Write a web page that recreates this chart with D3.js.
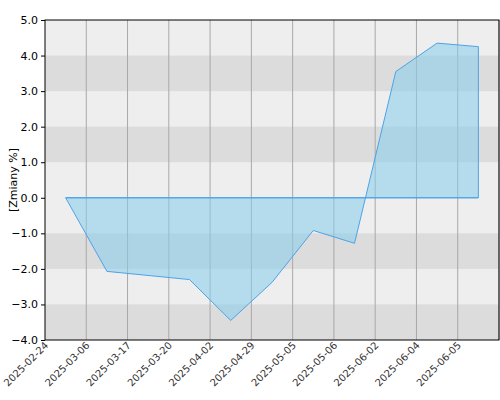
<!DOCTYPE html>
<html><head><meta charset="utf-8">
<script src="https://cdn.jsdelivr.net/npm/d3@7"></script>
<style>body{margin:0;background:#fff}text{font-family:"DejaVu Sans",sans-serif}</style>
</head><body><svg id="c" width="500" height="400"></svg>
<script>
var labels = ['2025-02-24','2025-03-06','2025-03-17','2025-03-20','2025-04-02','2025-04-29','2025-05-05','2025-05-06','2025-06-02','2025-06-04','2025-06-05'];
var values = [0.0, -2.07, null, -2.3, -3.45, -2.38, -0.92, -1.28, 3.55, 4.35, 4.25];
var yTicks = [5,4,3,2,1,0,-1,-2,-3,-4];
var darkBands = [[3,4],[1,2],[-2,-1],[-4,-3]];

var m = {l:45, r:1, t:20, b:60}, W = 500, H = 400;
var svg = d3.select('#c');
var x = d3.scaleBand().domain(labels).range([m.l, W - m.r]);
var y = d3.scaleLinear().domain([-4, 5]).range([H - m.b, m.t]);

svg.append('rect').attr('x', m.l).attr('y', m.t).attr('width', W - m.r - m.l).attr('height', H - m.b - m.t).attr('fill', '#eeeeee');
svg.selectAll('.band').data(darkBands).enter().append('rect')
  .attr('x', m.l).attr('width', W - m.r - m.l)
  .attr('y', function(d){ return y(d[1]); })
  .attr('height', function(d){ return y(d[0]) - y(d[1]); })
  .attr('fill', '#dcdcdc');

// vertical grid
svg.selectAll('.vg').data(labels.slice(1).concat(['end'])).enter().append('line')
  .attr('x1', function(d, i){ return m.l + x.bandwidth() * (i + 1); })
  .attr('x2', function(d, i){ return m.l + x.bandwidth() * (i + 1); })
  .attr('y1', m.t).attr('y2', H - m.b).attr('stroke', '#a8a8a8').attr('stroke-width', 1);

var pts = labels.map(function(l, i){ return {l: l, v: values[i]}; }).filter(function(d){ return d.v !== null; });
var cx = function(d){ return x(d.l) + x.bandwidth() / 2; };
svg.append('path').datum(pts)
  .attr('d', d3.area().x(cx).y0(y(0)).y1(function(d){ return y(d.v); }))
  .attr('fill', 'rgba(135,206,235,0.55)')
  .attr('stroke', '#4da3e8').attr('stroke-width', 1);
svg.append('line').attr('x1', cx(pts[0])).attr('x2', cx(pts[pts.length-1]))
  .attr('y1', y(0)).attr('y2', y(0)).attr('stroke', '#4da3e8');

// frame
svg.append('rect').attr('x', m.l).attr('y', m.t).attr('width', W - m.r - m.l).attr('height', H - m.b - m.t)
  .attr('fill', 'none').attr('stroke', '#000').attr('stroke-width', 1);

svg.append('g').attr('transform', 'translate(' + m.l + ',0)')
  .call(d3.axisLeft(y).tickValues(yTicks).tickFormat(d3.format('.1f')).tickSize(4))
  .call(function(g){ g.select('.domain').remove(); g.selectAll('text').attr('font-size', 11).attr('fill', '#000'); });

svg.append('g').selectAll('text').data(labels).enter().append('text')
  .attr('transform', function(d){ return 'translate(' + (x(d) + 4) + ',' + (H - m.b + 6) + ') rotate(-45)'; })
  .attr('text-anchor', 'end').attr('font-size', 10).attr('fill', '#333').text(function(d){ return d; });

svg.append('text').attr('transform', 'translate(17,' + ((m.t + H - m.b) / 2) + ') rotate(-90)')
  .attr('text-anchor', 'middle').attr('font-size', 11).text('[Zmiany %]');
</script></body></html>
